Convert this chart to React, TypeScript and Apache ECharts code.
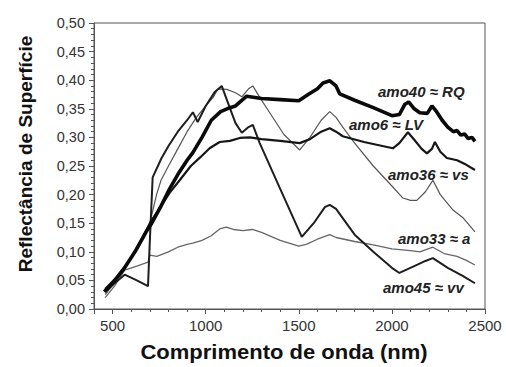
import React, { useEffect, useRef } from "react";
import * as echarts from "echarts";

const xTitle = "Comprimento de onda (nm)";
const yTitle = "Reflectância de Superfície";

// [wavelength nm, reflectance]
const amo40: [number, number][] = [
  [455, 0.03], [500, 0.045], [560, 0.07], [620, 0.1], [680, 0.135], [710, 0.15], [760, 0.18],
  [806, 0.21], [850, 0.235], [900, 0.26], [930, 0.273], [980, 0.3], [1030, 0.33], [1080, 0.345],
  [1130, 0.352], [1160, 0.355], [1220, 0.372], [1300, 0.368], [1400, 0.366], [1500, 0.364],
  [1550, 0.375], [1600, 0.385], [1630, 0.395], [1667, 0.399], [1700, 0.39], [1720, 0.376],
  [1800, 0.365], [1900, 0.352], [2000, 0.338], [2040, 0.34], [2070, 0.358], [2090, 0.362],
  [2120, 0.35], [2150, 0.343], [2190, 0.342], [2215, 0.355], [2240, 0.345], [2270, 0.33],
  [2300, 0.318], [2330, 0.31], [2350, 0.312], [2370, 0.304], [2390, 0.306], [2410, 0.298],
  [2430, 0.3], [2446, 0.293],
];
const amo6: [number, number][] = [
  [460, 0.035], [520, 0.055], [580, 0.08], [640, 0.11], [700, 0.15], [750, 0.175], [806, 0.203],
  [860, 0.225], [920, 0.25], [970, 0.265], [1021, 0.281], [1075, 0.292], [1130, 0.294],
  [1183, 0.299], [1237, 0.3], [1300, 0.297], [1400, 0.294], [1505, 0.29], [1560, 0.297],
  [1620, 0.31], [1666, 0.316], [1700, 0.31], [1736, 0.302], [1850, 0.292], [2005, 0.281],
  [2040, 0.29], [2086, 0.309], [2120, 0.296], [2160, 0.28], [2188, 0.272], [2215, 0.28],
  [2231, 0.292], [2260, 0.275], [2295, 0.264], [2350, 0.26], [2400, 0.252], [2446, 0.243],
];
const amo45: [number, number][] = [
  [460, 0.03], [510, 0.045], [565, 0.06], [630, 0.05], [690, 0.04], [700, 0.12], [715, 0.23],
  [763, 0.264], [800, 0.285], [850, 0.31], [900, 0.33], [931, 0.344], [957, 0.327], [1000, 0.355],
  [1050, 0.38], [1086, 0.39], [1120, 0.36], [1160, 0.325], [1194, 0.308], [1230, 0.318],
  [1253, 0.322], [1290, 0.29], [1400, 0.21], [1516, 0.126], [1580, 0.15], [1640, 0.178],
  [1666, 0.182], [1700, 0.175], [1800, 0.13], [1900, 0.1], [2000, 0.072], [2040, 0.063],
  [2120, 0.075], [2180, 0.084], [2220, 0.089], [2300, 0.072], [2380, 0.058], [2446, 0.045],
];
const amo36: [number, number][] = [
  [460, 0.025], [520, 0.05], [580, 0.08], [640, 0.115], [700, 0.15], [736, 0.2], [760, 0.225],
  [800, 0.25], [850, 0.28], [900, 0.31], [950, 0.335], [1000, 0.355], [1040, 0.37], [1066, 0.385],
  [1113, 0.384], [1160, 0.378], [1194, 0.371], [1230, 0.385], [1253, 0.39], [1290, 0.37],
  [1350, 0.34], [1420, 0.305], [1505, 0.278], [1560, 0.3], [1620, 0.33], [1666, 0.345],
  [1700, 0.335], [1736, 0.318], [1800, 0.29], [1900, 0.25], [2000, 0.215], [2059, 0.194],
  [2100, 0.19], [2134, 0.19], [2180, 0.205], [2220, 0.225], [2260, 0.2], [2328, 0.173],
  [2380, 0.16], [2420, 0.145], [2446, 0.135],
];
const amo33: [number, number][] = [
  [460, 0.02], [510, 0.04], [565, 0.068], [630, 0.075], [690, 0.082], [700, 0.094], [737, 0.092],
  [800, 0.1], [850, 0.108], [900, 0.113], [931, 0.115], [980, 0.12], [1030, 0.128], [1075, 0.14],
  [1110, 0.143], [1150, 0.139], [1200, 0.137], [1250, 0.139], [1300, 0.134], [1400, 0.12],
  [1500, 0.11], [1540, 0.113], [1600, 0.122], [1666, 0.13], [1700, 0.125], [1800, 0.118],
  [1900, 0.112], [2000, 0.105], [2100, 0.102], [2150, 0.1], [2220, 0.108], [2280, 0.097],
  [2350, 0.092], [2400, 0.085], [2446, 0.077],
];

const seriesNames = ["amo40 ≈ RQ", "amo6 ≈ LV", "amo36 ≈ vs", "amo33 ≈ a", "amo45 ≈ vv"];

const FONT = "'Liberation Sans', Arial, sans-serif";

export default function App() {
  const ref = useRef<HTMLDivElement>(null);
  useEffect(() => {
    if (!ref.current) return;
    const chart = echarts.init(ref.current, null, { renderer: "svg" });
    const lbl = (x: number, y: number, text: string) => ({
      type: "text",
      x,
      y,
      style: {
        text,
        fill: "#222",
        font: `italic bold 15px ${FONT}`,
        textVerticalAlign: "middle",
      },
    });
    chart.setOption({
      animation: false,
      backgroundColor: "#fff",
      grid: {
        left: 94,
        right: 21,
        top: 23,
        bottom: 58,
        show: true,
        borderColor: "#555",
        borderWidth: 1,
      },
      xAxis: {
        type: "value",
        min: 400,
        max: 2500,
        splitNumber: 4,
        minInterval: 500,
        maxInterval: 500,
        axisLine: { onZero: false, lineStyle: { color: "#555", width: 1 } },
        axisTick: { inside: false, length: 5, lineStyle: { color: "#555" } },
        minorTick: { show: true, splitNumber: 5, length: 3, lineStyle: { color: "#555" } },
        splitLine: { show: false },
        axisLabel: {
          margin: 9,
          fontSize: 15,
          color: "#333",
          fontFamily: FONT,
          formatter: (v: number) => (v % 500 === 0 ? String(v) : ""),
        },
      },
      yAxis: {
        type: "value",
        min: 0,
        max: 0.5,
        interval: 0.05,
        axisLine: { show: true, lineStyle: { color: "#555", width: 1 } },
        axisTick: { show: true, inside: false, length: 5, lineStyle: { color: "#555" } },
        minorTick: { show: true, splitNumber: 5, length: 3, lineStyle: { color: "#555" } },
        splitLine: { show: false },
        axisLabel: {
          margin: 9,
          fontSize: 14.5,
          color: "#333",
          fontFamily: FONT,
          formatter: (v: number) => v.toFixed(2).replace(".", ","),
        },
      },
      graphic: [
        {
          type: "text",
          x: 284,
          y: 352,
          scaleX: 1.1,
          style: {
            text: xTitle,
            fill: "#111",
            font: `bold 20px ${FONT}`,
            textAlign: "center",
            textVerticalAlign: "middle",
          },
        },
        {
          type: "text",
          x: 25,
          y: 154,
          rotation: Math.PI / 2,
          style: {
            text: yTitle,
            fill: "#111",
            font: `bold 19px ${FONT}`,
            textAlign: "center",
            textVerticalAlign: "middle",
          },
        },
        lbl(378, 91, seriesNames[0]),
        lbl(349, 124, seriesNames[1]),
        lbl(388, 174, seriesNames[2]),
        lbl(398, 238, seriesNames[3]),
        lbl(383, 287, seriesNames[4]),
      ],
      series: [
        { name: seriesNames[3], type: "line", data: amo33, showSymbol: false, lineStyle: { color: "#666", width: 1.3 } },
        { name: seriesNames[2], type: "line", data: amo36, showSymbol: false, lineStyle: { color: "#555", width: 1.2 } },
        { name: seriesNames[4], type: "line", data: amo45, showSymbol: false, lineStyle: { color: "#1e1e1e", width: 2 } },
        { name: seriesNames[1], type: "line", data: amo6, showSymbol: false, lineStyle: { color: "#161616", width: 2.2 } },
        { name: seriesNames[0], type: "line", data: amo40, showSymbol: false, lineStyle: { color: "#0a0a0a", width: 3.6 } },
      ],
    });
    return () => chart.dispose();
  }, []);
  return (
    <div
      ref={ref}
      style={{ position: "fixed", left: 0, top: 0, width: 506, height: 367 }}
    />
  );
}
